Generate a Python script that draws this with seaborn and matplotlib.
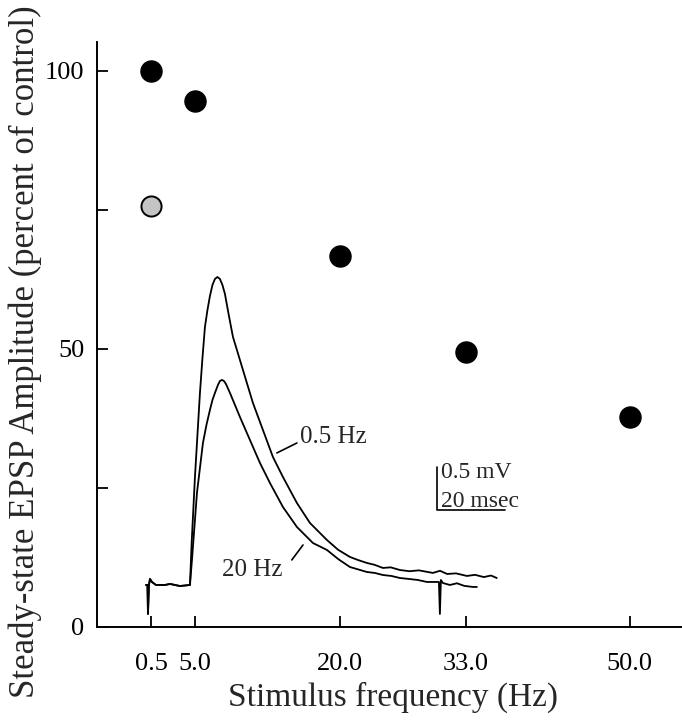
import matplotlib
matplotlib.use('Agg')
import matplotlib.pyplot as plt
import seaborn as sns
import pandas as pd

# steady-state EPSP amplitude vs stimulus frequency
freq = [0.5, 5.0, 20.0, 33.0, 50.0]
amp = [100, 94.6, 66.8, 49.4, 37.8]
ctrl_freq = [0.5]
ctrl_amp = [75.7]
xtick_vals = [0.5, 5.0, 20.0, 33.0, 50.0]
xtick_labels = ['0.5', '5.0', '20.0', '33.0', '50.0']
ytick_major = [0, 50, 100]
ytick_minor = [25, 75]

# EPSP traces (time in msec, voltage in mV)
base_t = [0.0, 0.44, 0.59, 0.88, 1.18, 1.76, 2.94, 5.59, 7.06, 10.0, 12.94]
base_v = [0, 0, -0.337, 0, 0.07, 0.035, 0, 0, 0.012, -0.012, 0]

t_05 = [13.44, 14.41, 15.88, 16.62, 17.35, 18.09, 18.82, 19.56, 20.29, 21.03, 21.76,
        22.5, 23.23, 24.41, 25.59, 28.53, 31.47, 34.41,
        37.35, 40.29, 44.41, 48.24, 53.24, 56.5, 60.0, 62.4, 65.0, 67.2, 69.71, 72.0,
        74.71, 77.5, 80.3, 84.41, 86.5, 88.6, 91.2, 94.41, 96.8, 99.4, 101.5, 103.2]
v_05 = [0.488, 1.256, 2.233, 2.64, 3.0, 3.198, 3.36, 3.488, 3.558, 3.581, 3.558,
        3.488, 3.384, 3.128, 2.884, 2.5, 2.116, 1.802,
        1.488, 1.256, 0.953, 0.721, 0.523, 0.41, 0.326, 0.29, 0.256, 0.235, 0.198, 0.205,
        0.174, 0.16, 0.17, 0.14, 0.165, 0.128, 0.135, 0.105, 0.118, 0.092, 0.11, 0.081]

t_20 = [13.53, 15.0, 16.76, 17.79, 18.82, 19.56, 20.29, 21.18, 21.76, 22.35, 22.94,
        23.53, 24.71, 27.65, 30.59, 33.53, 36.47,
        40.29, 44.41, 49.12, 53.24, 56.6, 60.0, 62.5, 65.0, 67.3, 69.71, 72.2, 74.71,
        77.4, 80.0, 82.65, 86.18, 86.47, 86.76, 87.35, 89.41, 91.5, 93.6, 96.18, 97.35]
v_20 = [0.291, 1.07, 1.651, 1.86, 2.035, 2.151, 2.233, 2.326, 2.372, 2.384, 2.372,
        2.337, 2.233, 1.953, 1.686, 1.419, 1.186,
        0.907, 0.674, 0.488, 0.407, 0.3, 0.209, 0.18, 0.151, 0.14, 0.116, 0.105, 0.081,
        0.07, 0.058, 0.035, 0.035, -0.337, 0.058, 0.023, 0.0, 0.02, -0.01, -0.023, -0.023]

df = pd.DataFrame({'freq': freq, 'amp': amp})
df_ctrl = pd.DataFrame({'freq': ctrl_freq, 'amp': ctrl_amp})

sns.set_style('ticks')
plt.rcParams['font.family'] = ['Liberation Serif', 'DejaVu Serif']

fig = plt.figure(figsize=(6.82, 7.2), dpi=100)
ax = fig.add_axes([0.1422, 0.1292, 0.8578, 0.8125])

sns.scatterplot(data=df, x='freq', y='amp', ax=ax, s=230, color='black',
                edgecolor='black', linewidth=1.0, zorder=3)
sns.scatterplot(data=df_ctrl, x='freq', y='amp', ax=ax, s=210, color='#c4c4c4',
                edgecolor='black', linewidth=1.4, zorder=3)

ax.set_xlim(-5.14, 55.4)
ax.set_ylim(0, 105.2)
ax.set_xticks(xtick_vals)
ax.set_xticklabels(xtick_labels)
ax.set_yticks(ytick_major)
ax.set_yticks(ytick_minor, minor=True)
ax.tick_params(which='both', direction='in', length=8, width=1.3, color='black',
               labelcolor='black')
ax.tick_params(axis='x', labelsize=19, pad=19)
ax.tick_params(axis='y', labelsize=19, pad=9)
for side in ['top', 'right']:
    ax.spines[side].set_visible(False)
for side in ['left', 'bottom']:
    ax.spines[side].set_linewidth(1.4)
    ax.spines[side].set_color('black')

ax.set_xlabel('Stimulus frequency (Hz)', fontsize=24)
ax.xaxis.set_label_coords(0.506, -0.094)
ax.set_ylabel('Steady-state EPSP Amplitude (percent of control)', fontsize=25)
ax.yaxis.set_label_coords(-0.094, 0.47)

# inset with the EPSP traces
ins = ax.inset_axes([-0.69, 0.36, 38.28, 65.64], transform=ax.transData)
ins.set_xlim(-1.76, 107.06)
ins.set_ylim(-0.465, 3.779)
ins.set_xticks([])
ins.set_yticks([])
ins.axis('off')
ins.patch.set_alpha(0)

trace_kw = dict(color='black', linewidth=1.3, sort=False, estimator=None)
sns.lineplot(x=base_t + t_05, y=base_v + v_05, ax=ins, **trace_kw)
sns.lineplot(x=base_t + t_20, y=base_v + v_20, ax=ins, **trace_kw)
ins.set_xlabel('')
ins.set_ylabel('')

# labels with leader lines
ins.plot([38.5, 44.4], [1.535, 1.651], color='black', linewidth=1.2)
ins.text(45.2, 1.72, '0.5 Hz', fontsize=18, va='center', ha='left')
ins.plot([42.9, 46.2], [0.291, 0.465], color='black', linewidth=1.2)
ins.text(22.35, 0.17, '20 Hz', fontsize=18, va='center', ha='left')

# scale bar
ins.plot([85.6, 85.6, 105.6], [1.372, 0.872, 0.872], color='black', linewidth=1.2)
ins.text(86.8, 1.31, '0.5 mV', fontsize=17, va='center', ha='left')
ins.text(86.8, 0.91, '20 msec', fontsize=17, va='baseline', ha='left')

fig.savefig('out.png', dpi=100)
